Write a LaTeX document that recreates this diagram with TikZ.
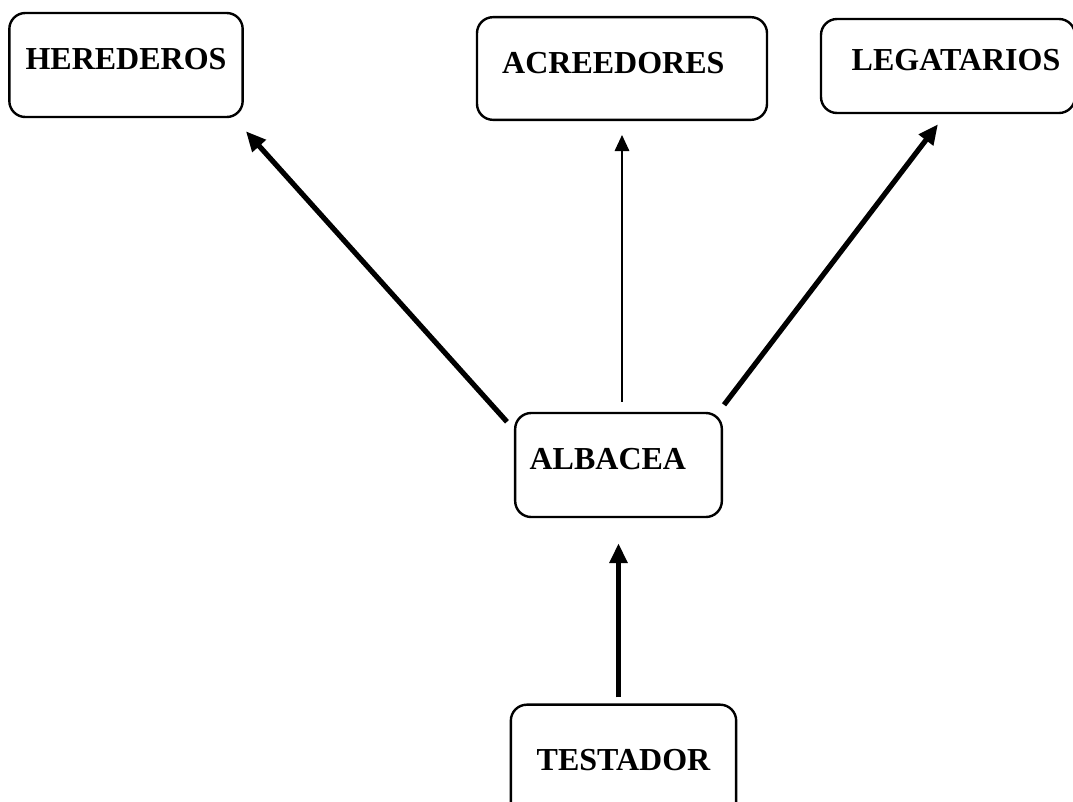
\documentclass[tikz,border=0pt]{standalone}
\usepackage{fontspec}
\setmainfont{Liberation Serif}
\usetikzlibrary{arrows.meta}

\begin{document}
\begin{tikzpicture}[x=0.75pt, y=-0.75pt,
    party/.style={draw, line width=1.8pt, rounded corners=12pt, align=center,
        font=\fontsize{24}{28}\selectfont\bfseries, text depth=9pt, inner sep=0pt},
    boldarrow/.style={line width=3.9pt, -{Triangle[length=15pt, width=13pt]}},
    finearrow/.style={line width=0.8pt, -{Triangle[length=12pt, width=11pt]}}]
    % Fix the page to the reference size
    \useasboundingbox (0,0) rectangle (1073,801);

    % The parties
    \node[party, minimum width=175pt, minimum height=78pt] (her) at (126,65) {HEREDEROS};
    \node[party, minimum width=217.5pt, minimum height=77pt] (acr) at (622,68.5) {ACREEDORES\hspace*{13pt}};
    \node[party, minimum width=190.5pt, minimum height=70.5pt] (leg) at (948,66) {\hspace*{12pt}LEGATARIOS};
    \node[party, minimum width=155pt, minimum height=78pt] (alb) at (618.5,465) {ALBACEA\hspace*{16pt}};
    \node[party, minimum width=169pt, minimum height=92pt] (tes) at (623.5,766) {TESTADOR};

    % From the executor out to the others
    \draw[boldarrow] ([shift={(-7,10)}]alb.north west) -- ([shift={(2,13)}]her.south east);
    \draw[finearrow, shorten <=7.5pt, shorten >=10.5pt] (alb.north -| acr.south) -- (acr.south);
    \draw[boldarrow] ([shift={(1,-7)}]alb.north east) -- ([shift={(-10,10)}]leg.south);

    % From the testator up to the executor
    \draw[boldarrow, shorten <=4.5pt, shorten >=18.75pt] (alb.south |- tes.north) -- (alb.south);
\end{tikzpicture}
\end{document}
